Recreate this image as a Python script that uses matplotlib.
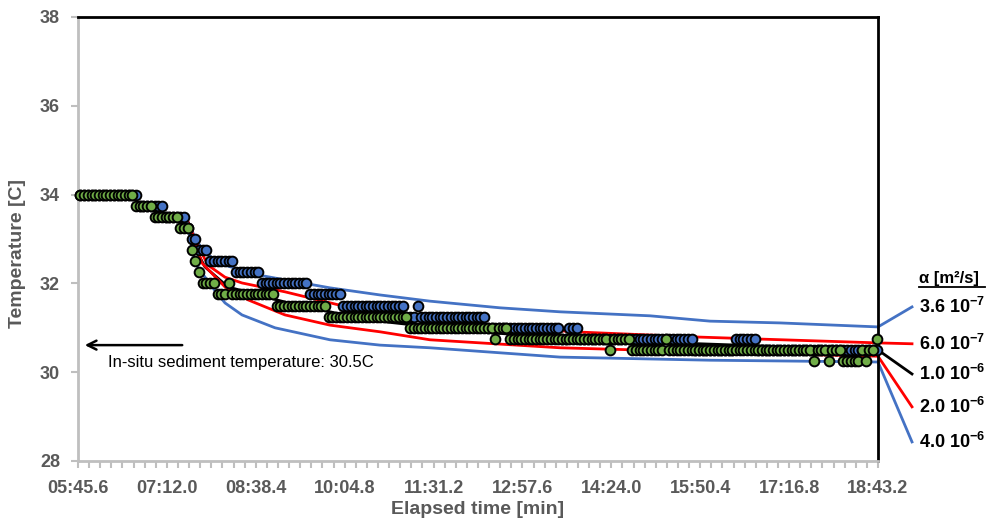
import numpy as np
import matplotlib
matplotlib.use("Agg")
import matplotlib.pyplot as plt
from matplotlib.lines import Line2D

plt.rcParams['font.family'] = ['Liberation Sans', 'DejaVu Sans']
plt.rcParams['mathtext.fontset'] = 'custom'
plt.rcParams['mathtext.rm'] = 'Liberation Sans'
plt.rcParams['mathtext.bf'] = 'Liberation Sans:bold'

# ---------------- data ----------------
# x tick labels (elapsed time, mm:ss.s); tick positions in seconds
x_tick_seconds = [345.6, 432.0, 518.4, 604.8, 691.2, 777.6, 864.0, 950.4, 1036.8, 1123.2]
x_tick_labels = ["05:45.6", "07:12.0", "08:38.4", "10:04.8", "11:31.2",
                 "12:57.6", "14:24.0", "15:50.4", "17:16.8", "18:43.2"]
y_ticks = [28, 30, 32, 34, 36, 38]

# measured temperature steps (sensor resolution 0.25 C), sampled every 3.6 s
sample_start = 348.0
sample_step = 3.6
sample_end = 1122.0

# blue sensor: level held until time (s)
blue_levels = [34.0, 33.75, 33.5, 33.25, 33.0, 32.75, 32.5, 32.25, 32.0, 31.75, 31.5,
               31.25, 31.5, 31.25, 31.0, 30.75, 31.0, 30.75, 30.5, 30.75, 30.5]
blue_until = [404, 428, 452, 456, 460, 471, 497, 523, 571, 603, 662,
              673, 677, 742, 815, 822, 831, 944, 983, 1006, 1124]

# green sensor: level held until time (s)
green_levels = [34.0, 33.75, 33.5, 33.25, 32.75, 32.5, 32.25, 32.0, 31.75, 32.0, 31.75,
                31.5, 31.25, 31.5, 31.25, 31.0, 30.75, 31.0, 30.75, 30.5, 30.75, 30.5,
                30.75, 30.5, 30.25, 30.5, 30.25, 30.5, 30.25, 30.5, 30.25, 30.5, 30.75]
green_until = [401, 419, 445, 453, 457, 461, 466, 479, 489, 493, 538,
               575, 578, 587, 667, 748, 752, 764, 860, 863, 883, 914,
               917, 1058, 1061, 1073, 1076, 1087, 1106, 1108, 1112, 1119, 1124]

# model curves for different thermal diffusivities
alpha_labels = [r"3.6 10$^{\mathbf{-7}}$", r"6.0 10$^{\mathbf{-7}}$", r"1.0 10$^{\mathbf{-6}}$",
                r"2.0 10$^{\mathbf{-6}}$", r"4.0 10$^{\mathbf{-6}}$"]
alpha_colors = ["#4472C4", "#FF0000", "#000000", "#FF0000", "#4472C4"]

t_a1 = [450.6, 454.5, 462.2, 472.0, 488.5, 520.6, 546.8, 590.5, 639.1, 687.7, 755.8, 814.1, 901.6, 959.9, 1027.9, 1123.2]
T_a1 = [33.50, 33.27, 32.91, 32.64, 32.41, 32.19, 32.08, 31.90, 31.74, 31.60, 31.45, 31.36, 31.27, 31.15, 31.11, 31.02]

t_a2 = [450.6, 459.3, 472.0, 488.5, 505.0, 546.8, 626.5, 723.7, 826.7, 950.2, 1123.2]
T_a2 = [33.50, 32.98, 32.41, 32.14, 32.01, 31.81, 31.36, 31.11, 30.91, 30.79, 30.66]

t_a3 = [450.6, 459.3, 469.0, 491.4, 546.8, 626.5, 723.7, 826.7, 950.2, 1123.2]
T_a3 = [33.50, 32.80, 32.37, 31.92, 31.58, 31.18, 30.93, 30.75, 30.64, 30.50]

t_a4 = [450.6, 466.1, 488.5, 510.8, 546.8, 590.5, 639.1, 687.7, 814.1, 1027.9, 1123.2]
T_a4 = [33.50, 32.46, 31.92, 31.63, 31.29, 31.06, 30.91, 30.73, 30.55, 30.41, 30.36]

t_a5 = [450.6, 459.3, 475.8, 488.5, 505.0, 537.1, 590.5, 639.1, 687.7, 814.1, 959.9, 1123.2]
T_a5 = [33.50, 32.46, 31.92, 31.56, 31.29, 31.00, 30.73, 30.61, 30.55, 30.34, 30.27, 30.23]

# label anchor temperatures for the diffusivity labels (right of plot)
label_T = [31.47, 30.64, 29.96, 29.22, 28.43]

insitu_T = 30.5

# ---------------- figure ----------------
W, H = 989, 527
fig = plt.figure(figsize=(W / 100, H / 100), dpi=100)
ax = fig.add_axes([78 / W, 1 - 461 / H, 800 / W, 444 / H])

xmin, xmax = 345.6, 1123.2
ax.set_xlim(xmin, xmax)
ax.set_ylim(28, 38)

# model curves
curves_t = [t_a1, t_a2, t_a3, t_a4, t_a5]
curves_T = [T_a1, T_a2, T_a3, T_a4, T_a5]
t_conn = xmax + (912 - 878) * (xmax - xmin) / 800
t_lab = xmax + (919 - 878) * (xmax - xmin) / 800
for tt, TT, col, lab, lT in zip(curves_t, curves_T, alpha_colors, alpha_labels, label_T):
    ax.plot(tt, TT, color=col, lw=2.0, zorder=2, solid_capstyle='butt')
    ax.plot([tt[-1], t_conn], [TT[-1], lT], color=col, lw=2.0, clip_on=False, zorder=2)
    ax.text(t_lab, lT, lab, fontsize=13, fontweight='bold', color='black',
            ha='left', va='center', clip_on=False)

# legend title (underlined)
fig.text(919 / W, 1 - 279 / H, "α [m²/s]", fontsize=12, fontweight='bold',
         ha='left', va='center', color='black')
fig.add_artist(Line2D([919 / W, 985 / W], [1 - 287 / H, 1 - 287 / H],
                      color='black', lw=1.3, transform=fig.transFigure))

# measured data (step series)
ts = np.arange(sample_start, sample_end + 0.01, sample_step)
def expand(levels, until):
    idx = np.searchsorted(np.asarray(until, float), ts, side='left')
    idx = np.clip(idx, 0, len(levels) - 1)
    return np.asarray(levels, float)[idx]

Tb = expand(blue_levels, blue_until)
Tg = expand(green_levels, green_until)
ax.plot(ts, Tb, ls='none', marker='o', ms=7.0, mfc='#4472C4', mec='black', mew=1.4,
        zorder=3, clip_on=False)
ax.plot(ts, Tg, ls='none', marker='o', ms=7.0, mfc='#70AD47', mec='black', mew=1.4,
        zorder=4, clip_on=False)

# in-situ annotation
ax.annotate("", xy=(349.5, 30.61), xytext=(449.6, 30.61),
            arrowprops=dict(arrowstyle='->', color='black', lw=1.8,
                            mutation_scale=16), annotation_clip=False)
ax.text(374.5, 30.22, "In-situ sediment temperature: %.1fC" % insitu_T, fontsize=12,
        color='black', ha='left', va='center')

# axes styling
ax.set_xticks(x_tick_seconds)
ax.set_xticklabels(x_tick_labels)
ax.set_xticks(np.arange(xmin, xmax + 0.01, 10.8), minor=True)
ax.set_yticks(y_ticks)
ax.set_yticklabels([str(v) for v in y_ticks])
ax.tick_params(axis='both', which='both', direction='out', color='#BFBFBF', width=1.5,
               labelsize=13, labelcolor='#595959')
ax.tick_params(axis='x', which='major', length=5, pad=9)
ax.tick_params(axis='x', which='minor', length=5)
ax.tick_params(axis='y', which='major', length=5, pad=8)
for lab in ax.get_xticklabels() + ax.get_yticklabels():
    lab.set_fontweight('bold')

for s in ['left', 'bottom']:
    ax.spines[s].set_color('#BFBFBF')
    ax.spines[s].set_linewidth(2)
for s in ['top', 'right']:
    ax.spines[s].set_color('black')
    ax.spines[s].set_linewidth(2)

fig.text(18 / W, 1 - 253 / H, "Temperature [C]", rotation=90, fontsize=14,
         fontweight='bold', color='#595959', ha='center', va='center')
fig.text(478 / W, 1 - 510 / H, "Elapsed time [min]", fontsize=14,
         fontweight='bold', color='#595959', ha='center', va='center')

fig.savefig("out.png", dpi=100)
